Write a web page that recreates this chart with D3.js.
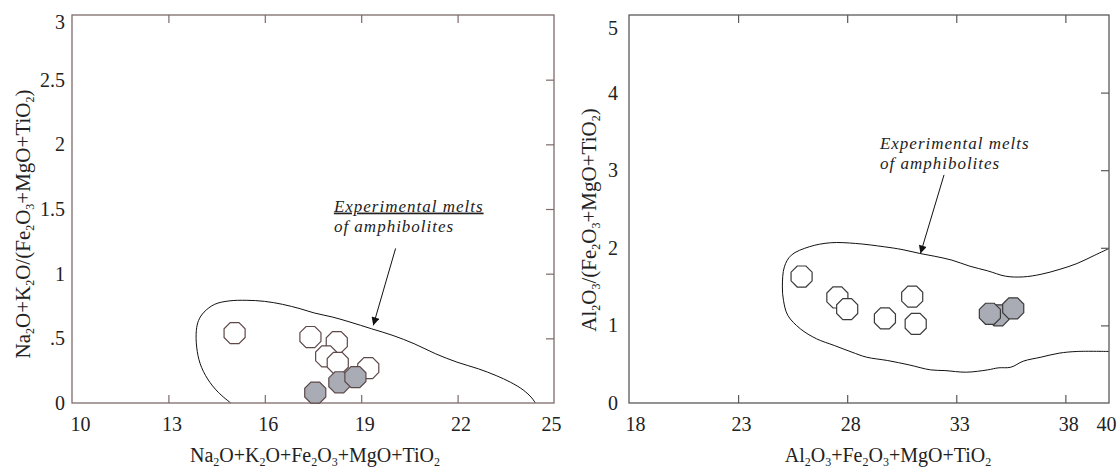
<!DOCTYPE html>
<html>
<head>
<meta charset="utf-8">
<script src="https://cdn.jsdelivr.net/npm/d3@7"></script>
<style>
  html, body { margin: 0; padding: 0; background: #fff; }
  svg, svg text { font-family: "Liberation Serif", "Times New Roman", serif; }
</style>
</head>
<body>
<svg id="chart" width="1119" height="470"></svg>
<script>
// ---- Panel A: Na2O+K2O+Fe2O3+MgO+TiO2 vs Na2O+K2O/(Fe2O3+MgO+TiO2) ----
const aXTicks = [10, 13, 16, 19, 22, 25];
const aYTicks = [0, 0.5, 1, 1.5, 2, 2.5, 3];
const aYTickLabels = ["0", ".5", "1", "1.5", "2", "2.5", "3"];
const aOpenX = [15.06, 17.42, 18.24, 17.91, 18.27, 19.22];
const aOpenY = [0.54, 0.51, 0.47, 0.36, 0.31, 0.27];
const aFillX = [17.57, 18.32, 18.82];
const aFillY = [0.08, 0.16, 0.20];
const aEnvX = [14.94, 14.55, 14.22, 13.99, 13.88, 13.87, 13.94, 14.11, 14.44, 14.88, 15.44, 15.99, 16.55, 17.10, 17.54, 18.10, 18.65, 19.32, 19.99, 20.65, 21.32, 21.98, 22.65, 23.20, 23.65, 24.04, 24.31, 24.42];
const aEnvY = [0, 0.083, 0.186, 0.303, 0.432, 0.561, 0.639, 0.703, 0.763, 0.789, 0.794, 0.786, 0.763, 0.729, 0.696, 0.665, 0.626, 0.574, 0.522, 0.458, 0.380, 0.316, 0.264, 0.212, 0.160, 0.101, 0.039, 0];

// ---- Panel B: Al2O3+Fe2O3+MgO+TiO2 vs Al2O3/(Fe2O3+MgO+TiO2) ----
const bXTicks = [18, 23, 28, 33, 38, 40];
const bYTicks = [0, 1, 2, 3, 4, 5];
const bYTickLabels = ["0", "1", "2", "3", "4", "5"];
const bOpenX = [25.91, 27.55, 28.00, 29.73, 30.98, 31.14];
const bOpenY = [1.63, 1.36, 1.21, 1.09, 1.37, 1.02];
const bFillX = [34.93, 34.54, 35.61];
const bFillY = [1.13, 1.15, 1.22];
const bEnvX = [40.0, 39.35, 38.53, 37.71, 36.89, 36.07, 35.26, 34.44, 33.62, 32.80, 31.99, 31.33, 30.51, 29.70, 28.39, 27.24, 26.26, 25.44, 25.12, 25.03, 25.08, 25.28, 25.85, 26.59, 27.41, 28.22, 28.88, 29.86, 30.84, 31.82, 32.48, 33.46, 34.44, 34.93, 35.50, 36.07, 36.89, 37.71, 38.53, 40.0];
const bEnvY = [1.991, 1.905, 1.797, 1.720, 1.659, 1.625, 1.634, 1.703, 1.763, 1.841, 1.892, 1.927, 1.978, 2.013, 2.056, 2.065, 2.013, 1.905, 1.754, 1.496, 1.323, 1.129, 0.957, 0.828, 0.741, 0.655, 0.591, 0.547, 0.491, 0.427, 0.418, 0.397, 0.427, 0.453, 0.461, 0.539, 0.591, 0.642, 0.664, 0.664];

const FONT = '"Liberation Serif", "Times New Roman", serif';
const svg = d3.select("#chart");

// arrowhead marker
svg.append("defs").append("marker")
  .attr("id", "arrowhead")
  .attr("viewBox", "0 0 10 10")
  .attr("refX", 10).attr("refY", 5)
  .attr("markerWidth", 10).attr("markerHeight", 8)
  .attr("markerUnits", "userSpaceOnUse")
  .attr("orient", "auto")
  .append("path").attr("d", "M0,0 L10,5 L0,10 Z").attr("fill", "#111");

function octagon(cx, cy, r) {
  const pts = d3.range(8).map(k => {
    const a = Math.PI / 8 + k * Math.PI / 4;
    return [cx + r * Math.cos(a), cy + r * Math.sin(a)];
  });
  return d3.line()(pts) + "Z";
}

// rich label with subscripts: parts = [[text, isSub], ...]
function richText(sel, parts) {
  parts.forEach(([t, sub]) => {
    const ts = sel.append("tspan").text(t);
    if (sub) ts.attr("font-size", 12).attr("baseline-shift", "-30%");
  });
}

function panel(cfg) {
  const g = svg.append("g").style("font-family", FONT);
  const x = d3.scaleLinear().domain(cfg.xDomain).range([cfg.left, cfg.right]);
  const y = d3.scaleLinear().domain(cfg.yDomain).range([cfg.bottom, cfg.top]);
  const frameColor = cfg.frameColor;

  // envelope of experimental melts
  g.append("path")
    .datum(cfg.envX.map((v, i) => [v, cfg.envY[i]]))
    .attr("d", d3.line().x(d => x(d[0])).y(d => y(d[1])).curve(d3.curveCatmullRom.alpha(0.5)))
    .attr("fill", "none").attr("stroke", "#111").attr("stroke-width", 1);

  // frame
  g.append("rect")
    .attr("x", x(cfg.xDomain[0])).attr("y", y(cfg.yDomain[1]))
    .attr("width", x(cfg.xDomain[1]) - x(cfg.xDomain[0]))
    .attr("height", y(cfg.yDomain[0]) - y(cfg.yDomain[1]))
    .attr("fill", "none").attr("stroke", frameColor).attr("stroke-width", 1.3);

  const innerX = cfg.xTicks.filter(v => v > cfg.xDomain[0] && v < cfg.xDomain[1]);
  const innerY = cfg.yTicks.filter(v => v > cfg.yDomain[0] && v < cfg.yDomain[1]);

  // bottom axis: inward ticks + labels
  const bottom = g.append("g").attr("transform", `translate(0,${y(cfg.yDomain[0])})`)
    .call(d3.axisBottom(x).tickValues(cfg.xTicks).tickSizeInner(-8).tickSizeOuter(0).tickPadding(14).tickFormat(d3.format("d")));
  bottom.attr("font-family", null).attr("font-size", null);
  bottom.select(".domain").remove();
  bottom.selectAll(".tick line").attr("stroke", frameColor).attr("stroke-width", 1.2)
    .attr("visibility", d => innerX.includes(d) ? "visible" : "hidden");
  bottom.selectAll(".tick text")
    .style("font-family", FONT).attr("font-size", 20).attr("fill", "#222")
    .attr("dx", (d, i) => i === 0 ? cfg.firstDx : (i === cfg.xTicks.length - 1 ? -3 : 3));

  // top axis: inward ticks only
  const top = g.append("g").attr("transform", `translate(0,${y(cfg.yDomain[1])})`)
    .call(d3.axisTop(x).tickValues(innerX).tickSizeInner(-8).tickSizeOuter(0).tickFormat(""));
  top.select(".domain").remove();
  top.selectAll(".tick line").attr("stroke", frameColor).attr("stroke-width", 1.2);

  // right axis: inward ticks only
  const right = g.append("g").attr("transform", `translate(${x(cfg.xDomain[1])},0)`)
    .call(d3.axisRight(y).tickValues(innerY).tickSizeInner(-8).tickSizeOuter(0).tickFormat(""));
  right.select(".domain").remove();
  right.selectAll(".tick line").attr("stroke", frameColor).attr("stroke-width", 1.2);

  // left axis: labels only
  const left = g.append("g").attr("transform", `translate(${x(cfg.xDomain[0])},0)`)
    .call(d3.axisLeft(y).tickValues(cfg.yTicks).tickSize(0).tickPadding(cfg.yPad).tickFormat((d, i) => cfg.yTickLabels[i]));
  left.attr("font-family", null).attr("font-size", null);
  left.select(".domain").remove();
  left.selectAll(".tick text")
    .style("font-family", FONT).attr("font-size", 20).attr("fill", "#222")
    .attr("dy", (d, i) => i === cfg.yTicks.length - 1 ? (0.32 * 20 + cfg.topDy) : "0.32em");

  // open samples
  g.selectAll("path.open")
    .data(cfg.openX.map((v, i) => [v, cfg.openY[i]]))
    .join("path").attr("class", "open")
    .attr("d", d => octagon(x(d[0]), y(d[1]), 11.4))
    .attr("fill", "#fff").attr("stroke", cfg.markStroke).attr("stroke-width", 1.2);

  // filled samples
  g.selectAll("path.filled")
    .data(cfg.fillX.map((v, i) => [v, cfg.fillY[i]]))
    .join("path").attr("class", "filled")
    .attr("d", d => octagon(x(d[0]), y(d[1]), 11.4))
    .attr("fill", "#a9acb4").attr("stroke", cfg.markStroke).attr("stroke-width", 1.2);

  // annotation
  const ann = g.append("text").style("font-family", FONT).attr("font-style", "italic")
    .attr("font-size", 17).attr("letter-spacing", 1.0).attr("fill", "#222");
  ann.append("tspan").attr("x", x(cfg.annX)).attr("y", y(cfg.annY)).text("Experimental melts")
    .attr("text-decoration", cfg.underline ? "underline" : "none");
  ann.append("tspan").attr("x", x(cfg.annX)).attr("dy", 20).text("of amphibolites");

  g.append("line")
    .attr("x1", x(cfg.arrow[0])).attr("y1", y(cfg.arrow[1]))
    .attr("x2", x(cfg.arrow[2])).attr("y2", y(cfg.arrow[3]))
    .attr("stroke", "#111").attr("stroke-width", 1)
    .attr("marker-end", "url(#arrowhead)");

  // axis titles
  const xt = g.append("text").attr("text-anchor", "middle")
    .attr("x", cfg.xTitleX).attr("y", 462)
    .attr("font-size", 20).attr("fill", "#222");
  richText(xt, cfg.xTitle);

  const yt = g.append("text").attr("text-anchor", "middle")
    .attr("transform", `translate(${cfg.yTitleX},${cfg.yTitleY}) rotate(-90)`)
    .attr("font-size", 21).attr("fill", "#222");
  richText(yt, cfg.yTitle);
}

panel({
  left: 72, right: 554, top: 15, bottom: 403,
  xDomain: [10, 25], yDomain: [0, 3],
  xTicks: aXTicks, yTicks: aYTicks, yTickLabels: aYTickLabels,
  firstDx: 8, yPad: 7, topDy: 7,
  frameColor: "#7d6a6a", markStroke: "#5e4848",
  openX: aOpenX, openY: aOpenY, fillX: aFillX, fillY: aFillY,
  envX: aEnvX, envY: aEnvY,
  annX: 18.15, annY: 1.48, underline: true,
  arrow: [20.07, 1.195, 19.375, 0.600],
  xTitle: [["Na", 0], ["2", 1], ["O+K", 0], ["2", 1], ["O+Fe", 0], ["2", 1], ["O", 0], ["3", 1], ["+MgO+TiO", 0], ["2", 1]],
  yTitle: [["Na", 0], ["2", 1], ["O+K", 0], ["2", 1], ["O/(Fe", 0], ["2", 1], ["O", 0], ["3", 1], ["+MgO+TiO", 0], ["2", 1], [")", 0]],
  xTitleX: 315, yTitleX: 30, yTitleY: 224
});

panel({
  left: 629, right: 1109, top: 15, bottom: 403,
  xDomain: [18, 40], yDomain: [0, 5],
  xTicks: bXTicks, yTicks: bYTicks, yTickLabels: bYTickLabels,
  firstDx: 6, yPad: 11, topDy: 13,
  frameColor: "#5a5a5a", markStroke: "#3a3a3a",
  openX: bOpenX, openY: bOpenY, fillX: bFillX, fillY: bFillY,
  envX: bEnvX, envY: bEnvY,
  annX: 29.5, annY: 3.278, underline: false,
  arrow: [32.44, 2.94, 31.36, 1.927],
  xTitle: [["Al", 0], ["2", 1], ["O", 0], ["3", 1], ["+Fe", 0], ["2", 1], ["O", 0], ["3", 1], ["+MgO+TiO", 0], ["2", 1]],
  yTitle: [["Al", 0], ["2", 1], ["O", 0], ["3", 1], ["/(Fe", 0], ["2", 1], ["O", 0], ["3", 1], ["+MgO+TiO", 0], ["2", 1], [")", 0]],
  xTitleX: 888, yTitleX: 596, yTitleY: 220
});
</script>
</body>
</html>
